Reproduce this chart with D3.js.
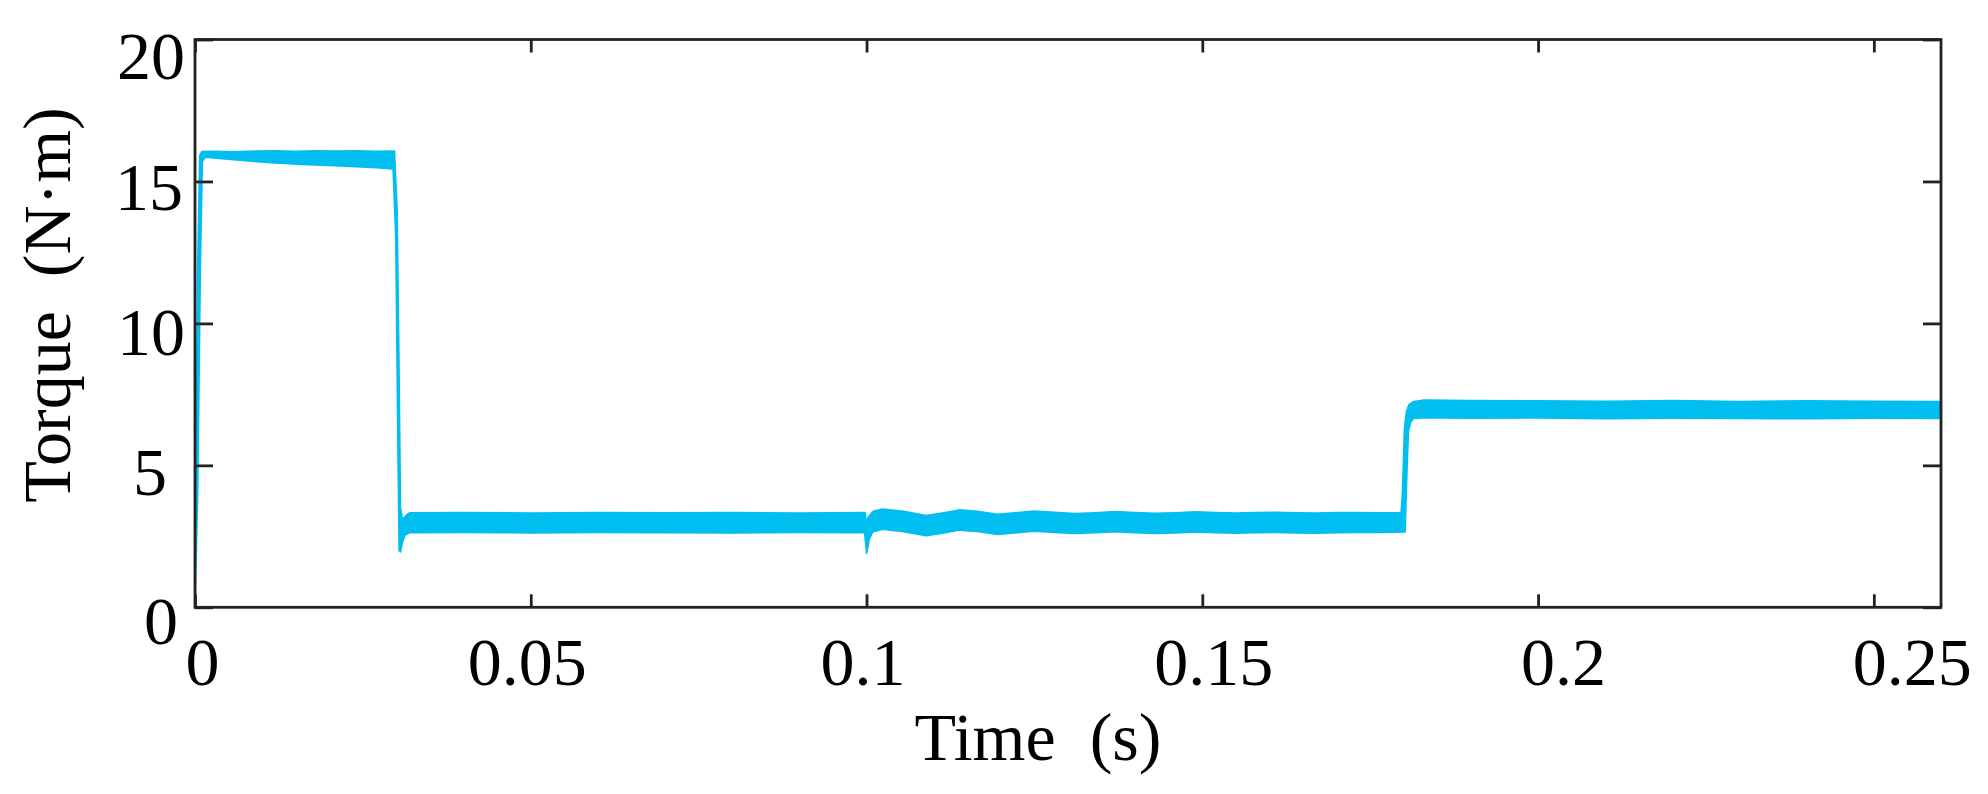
<!DOCTYPE html>
<html>
<head>
<meta charset="utf-8">
<script src="https://cdn.jsdelivr.net/npm/d3@7"></script>
<style>
  html, body { margin: 0; padding: 0; background: #fff; }
  svg { display: block; }
</style>
</head>
<body>
<svg id="chart" width="1988" height="794"></svg>
<script>
// ---------------- data ----------------
// upper envelope of the torque ripple band
const timeUpper = [
  0, 0.0001, 0.0004, 0.0007, 0.0010, 0.0030, 0.0060, 0.0090, 0.0120, 0.0150,
  0.0180, 0.0210, 0.0240, 0.0270, 0.0297, 0.0301, 0.0304, 0.0306, 0.0309, 0.0315,
  0.0320, 0.0400, 0.0500, 0.0600, 0.0700, 0.0800, 0.0900, 0.0998, 0.1000, 0.1003,
  0.1010, 0.1024, 0.1055, 0.1089, 0.1115, 0.1138, 0.1165, 0.1195, 0.1225, 0.1250,
  0.1280, 0.1310, 0.1340, 0.1370, 0.1400, 0.1430, 0.1460, 0.1490, 0.1520, 0.1550,
  0.1580, 0.1610, 0.1640, 0.1670, 0.1700, 0.1730, 0.1760, 0.1796, 0.1798, 0.1801,
  0.1804, 0.1808, 0.1815, 0.1830, 0.1900, 0.2000, 0.2100, 0.2200, 0.2300, 0.2400,
  0.2500, 0.2600
];
const torqueUpper = [
  0, 4, 12, 15.9, 16.05, 16.06, 16.04, 16.07, 16.08, 16.06,
  16.08, 16.07, 16.08, 16.06, 16.07, 14, 8, 3.5, 3.1, 3.25,
  3.33, 3.34, 3.32, 3.34, 3.33, 3.34, 3.32, 3.34, 2.95, 3.2,
  3.38, 3.46, 3.38, 3.23, 3.33, 3.43, 3.38, 3.28, 3.34, 3.39,
  3.35, 3.30, 3.33, 3.37, 3.34, 3.31, 3.33, 3.36, 3.34, 3.32,
  3.34, 3.35, 3.33, 3.32, 3.34, 3.34, 3.33, 3.33, 4.0, 6.3,
  6.9, 7.15, 7.25, 7.3, 7.28, 7.27, 7.26, 7.28, 7.25, 7.27,
  7.26, 7.25
];
// lower envelope of the torque ripple band
const timeLower = [
  0, 0.0004, 0.0008, 0.0011, 0.0015, 0.0040, 0.0080, 0.0120, 0.0160, 0.0200,
  0.0240, 0.0270, 0.0295, 0.0299, 0.0302, 0.0304, 0.0306, 0.0309, 0.0313, 0.0320,
  0.0400, 0.0500, 0.0600, 0.0700, 0.0800, 0.0900, 0.0997, 0.0999, 0.1000, 0.1001,
  0.1004, 0.1009, 0.1024, 0.1055, 0.1089, 0.1115, 0.1138, 0.1165, 0.1195, 0.1225,
  0.1250, 0.1280, 0.1310, 0.1340, 0.1370, 0.1400, 0.1430, 0.1460, 0.1490, 0.1520,
  0.1550, 0.1580, 0.1610, 0.1640, 0.1670, 0.1700, 0.1730, 0.1760, 0.1802, 0.1805,
  0.1807, 0.1810, 0.1814, 0.1830, 0.1900, 0.2000, 0.2100, 0.2200, 0.2300, 0.2400,
  0.2500, 0.2600
];
const torqueLower = [
  0, 4, 12, 15.7, 15.85, 15.8, 15.72, 15.65, 15.6, 15.56,
  15.52, 15.48, 15.44, 13, 6, 2.0, 1.95, 2.3, 2.55, 2.63,
  2.64, 2.62, 2.64, 2.63, 2.62, 2.64, 2.63, 2.2, 1.9, 2.0,
  2.4, 2.65, 2.75, 2.66, 2.52, 2.62, 2.72, 2.67, 2.57, 2.63,
  2.68, 2.64, 2.60, 2.63, 2.66, 2.63, 2.60, 2.62, 2.65, 2.63,
  2.61, 2.63, 2.64, 2.62, 2.61, 2.63, 2.64, 2.64, 2.65, 5.0,
  6.2, 6.5, 6.65, 6.68, 6.66, 6.67, 6.64, 6.66, 6.65, 6.64,
  6.66, 6.65
];
const xTicks = [0, 0.05, 0.1, 0.15, 0.2, 0.25];
const xTickLabels = ["0", "0.05", "0.1", "0.15", "0.2", "0.25"];
const yTicks = [0, 5, 10, 15, 20];
const yTickLabels = ["0", "5", "10", "15", "20"];
const xDomain = [0, 0.26];
const yDomain = [0, 20];
const xTitle = "Time  (s)";
const yTitle = "Torque  (N\u00B7m)";

// ---------------- layout / style ----------------
const plot = { left: 195, right: 1941, top: 39.5, bottom: 607.3 };
const FONT = "'Liberation Serif', 'Times New Roman', serif";
const FS = 68;
const lineColor = "#00bef0";
const frameColor = "#222";
// per-label nudges [dx, dy] (labels were placed a bit irregularly in the original)
const xLabelNudge = [7, -4, -4, 11, 25, 38];
const yLabelNudge = { 0: [-7, 14], 5: [-18, 7], 10: [0, 9], 15: [-2, 6], 20: [0, 17] };

const svg = d3.select("#chart");
const x = d3.scaleLinear().domain(xDomain).range([plot.left, plot.right]);
const y = d3.scaleLinear().domain(yDomain).range([plot.bottom, plot.top]);

svg.append("defs").append("clipPath").attr("id", "clip")
  .append("rect")
  .attr("x", plot.left).attr("y", plot.top - 2)
  .attr("width", plot.right - plot.left).attr("height", plot.bottom - plot.top + 4);

// ---------------- band ----------------
const upperPts = timeUpper.map((t, i) => [t, torqueUpper[i]]);
const lowerPts = timeLower.map((t, i) => [t, torqueLower[i]]).reverse();
const poly = upperPts.concat(lowerPts);
const line = d3.line().x(d => x(d[0])).y(d => y(d[1]));

svg.append("path")
  .attr("clip-path", "url(#clip)")
  .attr("d", line(poly) + "Z")
  .attr("fill", lineColor)
  .attr("stroke", lineColor)
  .attr("stroke-width", 1.6)
  .attr("stroke-linejoin", "round");

// ---------------- axes ----------------
const fmtX = d => xTickLabels[xTicks.indexOf(d)];
const fmtY = d => yTickLabels[yTicks.indexOf(d)];

const gx = svg.append("g").attr("transform", `translate(0,${plot.bottom})`)
  .call(d3.axisBottom(x).tickValues(xTicks).tickFormat(fmtX).tickSize(-13).tickSizeOuter(0).tickPadding(29));
const gxTop = svg.append("g").attr("transform", `translate(0,${plot.top})`)
  .call(d3.axisTop(x).tickValues(xTicks).tickFormat("").tickSize(-13).tickSizeOuter(0));
const gy = svg.append("g").attr("transform", `translate(${plot.left},0)`)
  .call(d3.axisLeft(y).tickValues(yTicks).tickFormat(fmtY).tickSize(-18).tickSizeOuter(0).tickPadding(10));
const gyRight = svg.append("g").attr("transform", `translate(${plot.right},0)`)
  .call(d3.axisRight(y).tickValues(yTicks).tickFormat("").tickSize(-18).tickSizeOuter(0));

[gx, gxTop, gy, gyRight].forEach(g => {
  g.select(".domain").remove();
  g.selectAll(".tick line").attr("stroke", frameColor).attr("stroke-width", 2.8);
  g.selectAll(".tick text")
    .attr("fill", "#000")
    .style("font-family", FONT)
    .style("font-size", FS + "px");
});
gx.selectAll(".tick text").attr("dx", (d, i) => xLabelNudge[i]);
gy.selectAll(".tick text")
  .attr("dx", d => yLabelNudge[d][0])
  .attr("y", d => yLabelNudge[d][1]);

// frame
svg.append("rect")
  .attr("x", plot.left).attr("y", plot.top)
  .attr("width", plot.right - plot.left).attr("height", plot.bottom - plot.top)
  .attr("fill", "none").attr("stroke", frameColor).attr("stroke-width", 2.8);

// ---------------- titles ----------------
svg.append("text")
  .attr("x", 1038).attr("y", 760)
  .attr("text-anchor", "middle")
  .style("white-space", "pre")
  .style("font-family", FONT).style("font-size", FS + "px")
  .attr("fill", "#000")
  .text(xTitle);

svg.append("text")
  .attr("transform", "translate(70,305) rotate(-90)")
  .attr("text-anchor", "middle")
  .style("white-space", "pre")
  .style("font-family", FONT).style("font-size", FS + "px")
  .attr("fill", "#000")
  .text(yTitle);
</script>
</body>
</html>
